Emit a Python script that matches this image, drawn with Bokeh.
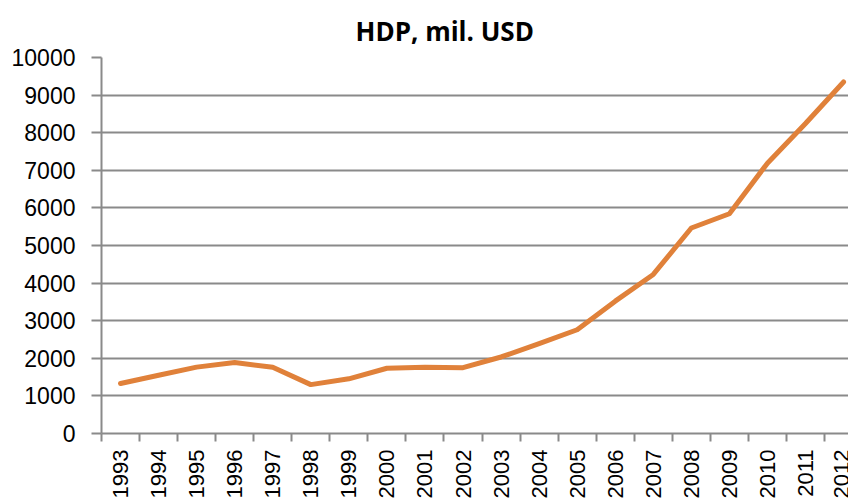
import math
from bokeh.plotting import figure
from bokeh.models import Range1d, FixedTicker, ColumnDataSource
from bokeh.embed import file_html
from bokeh.resources import INLINE

title_text = "HDP, mil. USD"
years = ["1993", "1994", "1995", "1996", "1997", "1998", "1999", "2000", "2001", "2002",
         "2003", "2004", "2005", "2006", "2007", "2008", "2009", "2010", "2011", "2012"]
gdp = [1330, 1550, 1765, 1890, 1760, 1300, 1455, 1735, 1765, 1750,
       2035, 2390, 2760, 3520, 4230, 5465, 5845, 7190, 8245, 9350]
y_ticks = [0, 1000, 2000, 3000, 4000, 5000, 6000, 7000, 8000, 9000, 10000]

idx = list(range(len(years)))
src = ColumnDataSource(dict(x=idx, y=gdp))

GRID = "#8a8a8a"

p = figure(width=848, height=501, output_backend="svg", toolbar_location=None,
           x_range=Range1d(-0.5, 19.13), y_range=Range1d(0, 10000),
           min_border_left=101, min_border_right=0, min_border_top=57, min_border_bottom=66,
           title=title_text)

p.title.text_font = "Open Sans"
p.title.text_font_style = "bold"
p.title.text_font_size = "26px"
p.title.text_color = "black"
p.title.align = "left"
p.title.vertical_align = "bottom"
p.title.text_line_height = 0.6
p.title.offset = 254
p.title.standoff = 18

p.outline_line_color = None
p.background_fill_color = "white"
p.border_fill_color = "white"

p.line("x", "y", source=src, line_color="#E0813A", line_width=5,
       line_cap="round", line_join="round")

# x axis
xa = p.xaxis[0]
xa.ticker = FixedTicker(ticks=idx, minor_ticks=[i - 0.5 for i in range(len(years) + 1)])
xa.major_label_overrides = {i: y for i, y in zip(idx, years)}
xa.major_label_orientation = math.pi / 2
xa.major_tick_line_color = None
xa.major_tick_out = 8
xa.major_tick_in = 0
xa.minor_tick_out = 8
xa.minor_tick_in = 0
xa.minor_tick_line_color = GRID
xa.minor_tick_line_width = 2
xa.axis_line_color = GRID
xa.axis_line_width = 2
xa.major_label_text_font = "Liberation Sans"
xa.major_label_text_font_size = "22px"
xa.major_label_text_color = "black"
xa.major_label_standoff = 8

# y axis
ya = p.yaxis[0]
ya.ticker = FixedTicker(ticks=y_ticks)
ya.major_tick_out = 10
ya.major_tick_in = 0
ya.minor_tick_line_color = None
ya.major_tick_line_color = GRID
ya.major_tick_line_width = 2
ya.axis_line_color = GRID
ya.axis_line_width = 2
ya.major_label_text_font = "Liberation Sans"
ya.major_label_text_font_size = "23px"
ya.major_label_text_color = "black"
ya.major_label_standoff = 16

p.xgrid.visible = False
p.ygrid.ticker = FixedTicker(ticks=y_ticks)
p.ygrid.grid_line_color = GRID
p.ygrid.grid_line_width = 2

open("out.html", "w").write(file_html(p, INLINE))
